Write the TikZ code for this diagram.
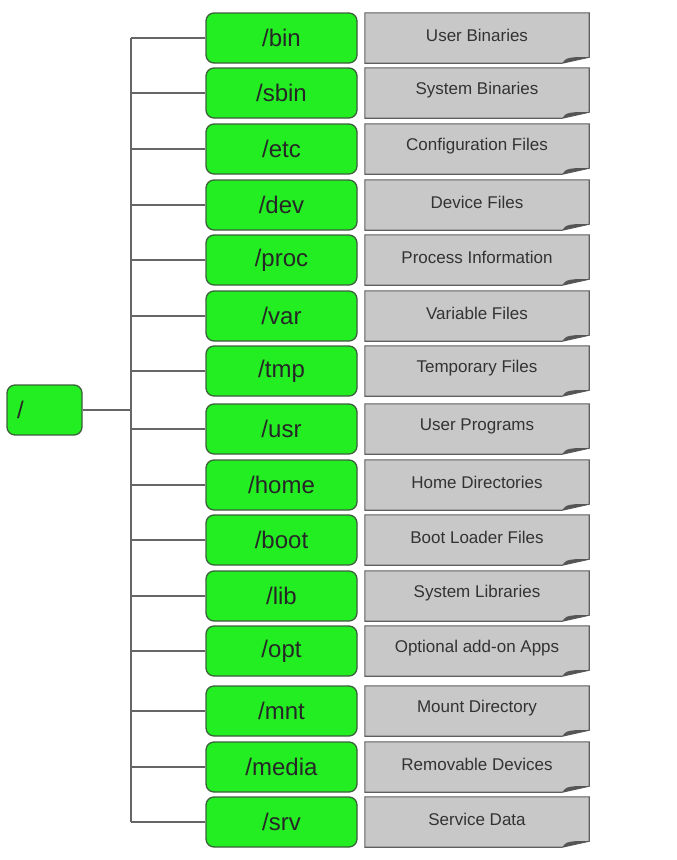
\documentclass[tikz,border=0pt]{standalone}
\usepackage{fontspec}
\setmainfont{Liberation Sans}
\usepackage{xcolor}
\usepackage{tikz}
\usetikzlibrary{calc}
\definecolor{dirgreen}{RGB}{34,238,34}
\definecolor{dirborder}{RGB}{60,95,60}
\definecolor{notegray}{RGB}{200,200,200}
\definecolor{noteborder}{RGB}{95,95,95}
\definecolor{foldgray}{RGB}{85,85,85}
\tikzset{
  dirbox/.style={draw=dirborder, fill=dirgreen, rounded corners=8pt, line width=1.3pt,
    minimum width=151pt, minimum height=50pt, inner sep=0pt,
    font=\fontsize{24}{26}\selectfont, text=black!85},
  notebox/.style={minimum width=224pt, minimum height=50pt, inner sep=0pt},
  notetext/.style={font=\fontsize{17}{19}\selectfont, text=black!80},
  treeline/.style={draw=black!60, line width=1.3pt},
}

\begin{document}
\begin{tikzpicture}[x=1pt, y=-1pt]
  \useasboundingbox (0,0) rectangle (677,860);

  % root and trunk
  \node[dirbox, minimum width=75pt, text width=55pt, align=left] (root) at (44.5,410) {/};
  \coordinate (trunk) at (131,410);

  \foreach \dname/\desc/\yy [count=\i] in {
      bin/User Binaries/38, sbin/System Binaries/93, etc/Configuration Files/149,
      dev/Device Files/205, proc/Process Information/260, var/Variable Files/316,
      tmp/Temporary Files/371, usr/User Programs/429, home/Home Directories/485,
      boot/Boot Loader Files/540, lib/System Libraries/596, opt/Optional add-on Apps/651,
      mnt/Mount Directory/711, media/Removable Devices/767, srv/Service Data/822} {
    \node[dirbox] (d\i) at (281.5,\yy) {/\dname};
    \node[notebox] (n\i) at (477,\yy) {};
    % note shape with folded corner
    \draw[draw=noteborder, fill=notegray, line width=1.1pt]
      (n\i.north west) -- (n\i.north east) -- ($(n\i.south east)+(0,-6)$)
      .. controls ($(n\i.south east)+(-14,-3)$) .. ($(n\i.south east)+(-27,0)$)
      -- (n\i.south west) -- cycle;
    \fill[foldgray]
      ($(n\i.south east)+(-27,0)$) .. controls ($(n\i.south east)+(-23,-5)$) .. ($(n\i.south east)+(-14,-6)$)
      -- ($(n\i.south east)+(0,-6)$) .. controls ($(n\i.south east)+(-14,-3)$) .. cycle;
    \node[notetext] at ($(n\i.center)+(0,-3)$) {\desc};
    \draw[treeline] (d\i.west) -- (d\i.west -| trunk);
  }

  \draw[treeline] (root.east) -- (trunk);
  \draw[treeline] (d1.west -| trunk) -- (d15.west -| trunk);
\end{tikzpicture}
\end{document}
